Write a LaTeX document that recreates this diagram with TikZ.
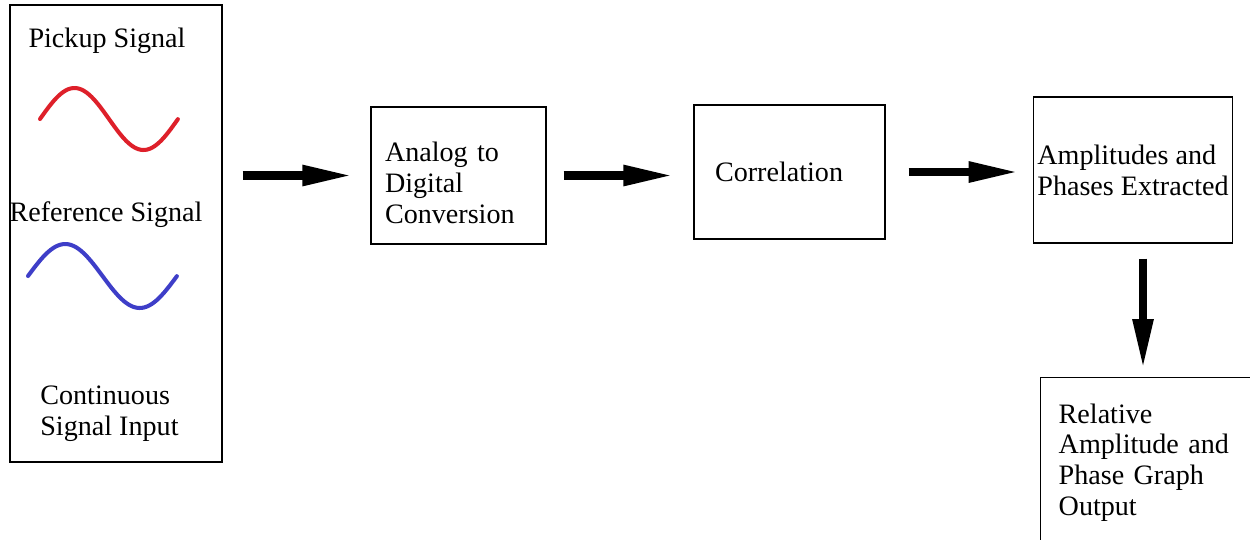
\documentclass[tikz,border=0pt]{standalone}
\usepackage{fontspec}
\setmainfont{Liberation Serif}
\usepackage{tikz}
\usetikzlibrary{arrows.meta}
\definecolor{pickred}{RGB}{222,32,42}
\definecolor{refblue}{RGB}{62,62,200}
\tikzstyle{block} = [rectangle, draw, line width=0.8pt, align=left, inner ysep=0pt, font=\fontsize{16}{17.6}\selectfont]
\tikzstyle{label} = [align=left, inner sep=0pt, font=\fontsize{16}{17.6}\selectfont]
\tikzstyle{line} = [draw, line width=0.17cm, -{Triangle[length=1.02cm, width=0.38cm]}]
\tikzstyle{wave} = [line width=2.3pt, line cap=round]
\begin{document}
\begin{tikzpicture}[x=0.02cm, y=-0.02cm]
				\useasboundingbox (0,0) rectangle (1250,539);
				\clip (0,0) rectangle (1250,539);
				% Place nodes
				\node [block, minimum width=4.24cm, minimum height=9.14cm] (input) at (116,233.5) {};
				\node [label] (pickup) at (107,41) {Pickup Signal};
				\node [label] (reference) at (106,215) {Reference Signal};
				\node [label, anchor=west] (continuous) at (40,414) {Continuous\\Signal Input};
				\node [block, inner xsep=0.28cm, text width=2.94cm, minimum width=3.5cm, minimum height=2.74cm] (adc) at (458.5,175.5) {\rule{0pt}{0.7cm}Analog to\\Digital\\Conversion};
				\node [block, inner xsep=0.42cm, text width=2.98cm, minimum width=3.82cm, minimum height=2.68cm] (corr) at (789.5,172) {Correlation};
				\node [block, inner xsep=0.08cm, minimum width=3.96cm, minimum height=2.92cm] (amp) at (1133,170) {Amplitudes and\\Phases Extracted};
				\node [block, anchor=north west, inner xsep=0.36cm, text width=4.28cm, minimum width=5cm, minimum height=3.4cm] (out) at (1040,377) {Relative\\Amplitude and\\Phase Graph\\Output};
				% Signals
				\draw [wave, pickred] plot [domain=0:1, samples=60] ({40+138*\x}, {119-31*sin(360*\x)});
				\draw [wave, refblue] plot [domain=0:1, samples=60] ({28+149*\x}, {276-32*sin(360*\x)});
				% Draw edges
				\path [line, shorten <=0.4cm, shorten >=0.34cm] (input.east |- adc.west) -- (adc.west);
				\path [line, shorten <=0.34cm, shorten >=0.38cm] (adc.east) -- (adc.east -| corr.west);
				\path [line, shorten <=0.46cm, shorten >=0.26cm] (corr.east) -- (corr.east -| amp.west);
				\coordinate (ampdown) at ([xshift=0.2cm]amp.south);
				\path [line, shorten <=0.3cm, shorten >=0.14cm] (ampdown) -- (ampdown |- out.north);
			\end{tikzpicture}
\end{document}
